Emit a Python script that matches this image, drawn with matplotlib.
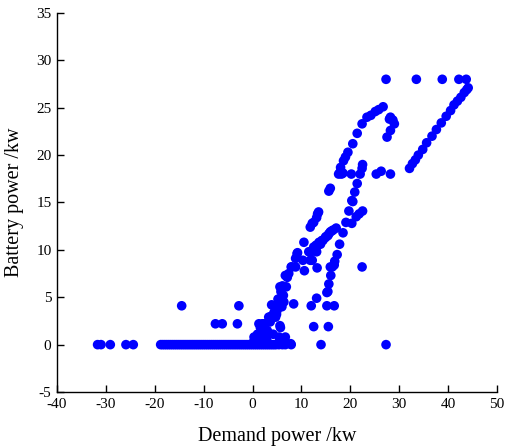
import matplotlib
matplotlib.use("Agg")
import matplotlib.pyplot as plt

plt.rcParams['font.family'] = ['Liberation Serif', 'DejaVu Serif']
plt.rcParams['axes.unicode_minus'] = False

# demand power (kW) vs battery power (kW)
# idle points: battery power = 0
zero_x = [-31.7, -31.0, -29.1, -25.9, -24.4,
          -18.8, -18.4, -18.0, -17.6, -17.2, -16.8, -16.4, -16.0, -15.6, -15.2,
          -14.8, -14.4, -14.0, -13.6, -13.2, -12.8, -12.4, -12.0, -11.6, -11.2,
          -10.8, -10.4, -10.0, -9.6, -9.2, -8.8, -8.4, -8.0, -7.6, -7.2, -6.8,
          -6.4, -6.0, -5.6, -5.2, -4.8, -4.4, -4.0, -3.6, -3.2, -2.8, -2.4,
          -2.0, -1.6, -1.2, -0.8, -0.4, 0.0, 0.4, 0.8, 1.2, 1.6, 2.0, 2.4,
          2.8, 3.2, 3.6, 4.0, 4.4, 4.8, 5.4, 6.1, 6.7, 7.9, 14.0, 27.3]
zero_y = [0.0] * len(zero_x)

# low-demand outliers and start of the steep branch
low_x = [-14.5, -2.8, -7.6, -6.2, -3.1, 0.3, 0.6, 1.0, 1.3, 1.6, 2.0, 2.3,
         3.3, 4.4, 4.7, 5.0, 5.6, 5.7, 5.4, 6.7, 7.8, 6.4, 3.9, 5.4, 6.4, 8.4,
         0.2, 0.5, 1.1, 1.8, 2.6, 3.0, 3.6, 4.2, 1.5, 2.2, 2.9, 3.8,
         4.6, 5.2, 5.8, 6.0, 4.9]
low_y = [4.1, 4.1, 2.2, 2.2, 2.2, 0.8, 0.5, 1.1, 2.2, 1.8, 2.2, 2.2,
         2.9, 3.4, 2.9, 3.6, 2.0, 1.8, 0.8, 0.8, 0.1, 0.6, 4.2, 4.3, 4.5, 4.3,
         0.3, 0.2, 0.4, 0.9, 1.2, 1.5, 2.4, 1.1, 0.6, 1.0, 0.5, 3.0,
         3.9, 4.8, 5.6, 4.0, 3.2]

# left branch, demand 6..27 kW
left_x = [6.3, 6.1, 5.6, 6.9, 6.7, 7.1, 7.4, 8.0, 7.9, 8.8, 10.6, 10.3, 9.2,
          8.8, 9.1, 10.5, 11.5, 12.0, 11.8, 12.2, 13.1, 13.2, 13.2, 13.9,
          14.4, 14.9, 15.4, 15.9, 16.5, 17.1, 12.5, 13.0, 13.6, 14.2, 15.0,
          15.6, 16.2, 11.8, 12.2, 12.5, 13.1, 13.3, 13.5, 15.6, 15.9,
          17.6, 17.9, 18.2, 18.5, 18.0, 18.6, 19.0, 19.5, 20.5, 21.4, 22.4,
          23.4, 24.2, 25.1, 25.8, 26.7, 20.2]
left_y = [5.2, 6.2, 6.1, 6.1, 7.3, 7.1, 7.5, 8.2, 8.2, 8.2, 7.8, 8.9, 9.7,
          9.1, 9.6, 10.8, 9.8, 9.8, 8.9, 8.9, 9.8, 8.1, 10.4, 10.6,
          11.0, 11.3, 11.5, 11.9, 12.1, 12.3, 10.3, 10.5, 10.8, 11.0, 11.4,
          11.7, 12.0, 12.4, 12.8, 12.9, 13.4, 13.8, 14.0, 16.2, 16.5,
          18.0, 18.2, 18.0, 18.1, 18.7, 19.4, 19.8, 20.3, 21.2, 22.3, 23.3,
          24.0, 24.2, 24.6, 24.8, 25.1, 18.0]

# middle branch, demand 12..29 kW
mid_x = [12.0, 12.5, 13.1, 15.2, 16.7, 15.5, 15.2, 15.4, 15.6, 16.0, 15.9,
         16.3, 16.7, 16.8, 17.3, 17.8, 18.5, 19.1, 19.7, 20.3, 20.5, 20.9,
         21.4, 22.0, 22.4, 22.5, 20.3, 21.2, 21.8, 22.5, 22.4,
         25.3, 26.3, 28.2, 27.5, 28.2, 29.0, 28.7, 28.2, 28.0]
mid_y = [4.1, 1.9, 4.9, 4.1, 4.1, 1.9, 5.5, 5.6, 6.4, 7.3, 8.2,
         8.2, 8.4, 8.8, 9.5, 10.6, 11.8, 12.9, 14.1, 15.2, 15.1, 16.1,
         17.0, 18.0, 18.6, 19.0, 12.8, 13.5, 13.8, 14.1, 8.2,
         18.0, 18.3, 18.0, 21.9, 22.6, 23.3, 23.7, 24.0, 23.8]

# right straight branch and rated-power cap
right_x = [32.1, 32.7, 33.3, 33.9, 34.8, 35.6, 36.7, 37.6, 38.6, 39.6, 40.5,
           41.2, 41.9, 42.6, 43.3, 43.8, 44.1,
           27.3, 33.5, 38.8, 42.2, 43.7]
right_y = [18.6, 19.1, 19.5, 20.0, 20.6, 21.3, 22.0, 22.7, 23.4, 24.1, 24.7,
           25.3, 25.7, 26.1, 26.6, 26.9, 27.1,
           28.0, 28.0, 28.0, 28.0, 28.0]

xs = zero_x + low_x + left_x + mid_x + right_x
ys = zero_y + low_y + left_y + mid_y + right_y

fig = plt.figure(figsize=(5.05, 4.47), dpi=100)
ax = fig.add_axes([0.1129, 0.123, 0.8713, 0.848])
ax.scatter(xs, ys, s=48, color='#0000ff', edgecolors='none', zorder=3)

ax.set_xlim(-40, 50)
ax.set_ylim(-5, 35)
ax.set_xticks(range(-40, 51, 10))
ax.set_yticks(range(-5, 36, 5))
ax.tick_params(direction='in', length=5, width=1, labelsize=11, pad=4)
ax.spines['top'].set_visible(False)
ax.spines['right'].set_visible(False)
for s in ('left', 'bottom'):
    ax.spines[s].set_linewidth(1)

ax.set_xlabel('Demand power /kw', fontsize=14.5, labelpad=12)
ax.set_ylabel('Battery power /kw', fontsize=14.5, labelpad=9)

fig.savefig('out.png', dpi=100)
